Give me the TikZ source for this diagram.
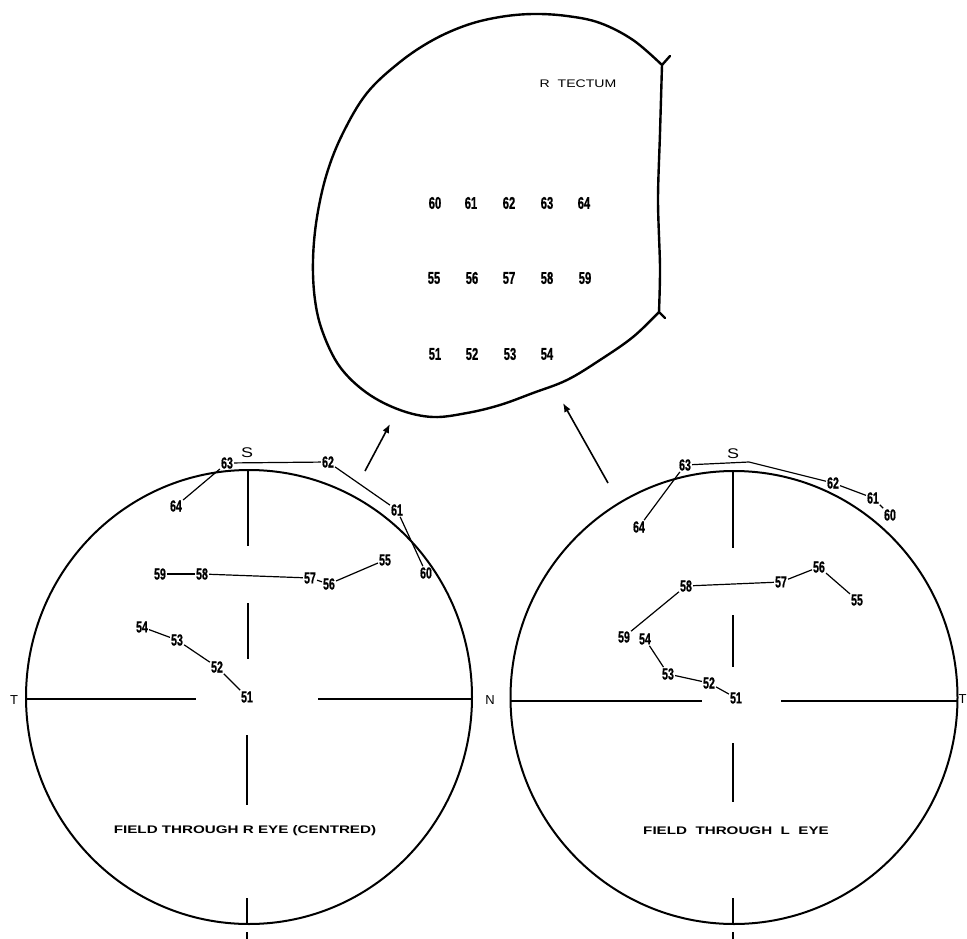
\documentclass[tikz,border=0pt]{standalone}
\usepackage{fontspec}
\usetikzlibrary{arrows.meta}
\newfontfamily\numfont[FakeStretch=0.66,FakeBold=0.8]{Liberation Sans}
\newfontfamily\labfont[FakeStretch=1.28]{Liberation Sans}
\newfontfamily\capfont[FakeStretch=1.38]{Liberation Sans}
\newfontfamily\tfont{Liberation Sans}
\tikzset{
  num/.style={font=\numfont\bfseries\fontsize{16}{16}\selectfont, inner sep=1pt},
  tnum/.style={font=\numfont\bfseries\fontsize{17}{17}\selectfont, inner sep=1pt},
  lab/.style={font=\labfont\fontsize{11}{11}\selectfont, inner sep=0pt},
  caplab/.style={font=\capfont\bfseries\fontsize{11}{11}\selectfont, inner sep=0pt},
  dirlab/.style={font=\labfont\fontsize{14}{14}\selectfont, inner sep=0pt},
  edgelab/.style={font=\tfont\fontsize{13}{13}\selectfont, inner sep=0pt},
  link/.style={line width=1.2pt},
  rim/.style={line width=2pt},
  cross/.style={line width=1.8pt},
  outline/.style={line width=2.4pt, line join=round, line cap=round},
  arr/.style={line width=1.6pt, -{Latex[length=9pt,width=7pt]}},
}
\begin{document}
\begin{tikzpicture}[x=1pt,y=-1pt]
\fill[white] (0,0) rectangle (967,939);
\useasboundingbox (0,0) rectangle (967,939);

% ---------------- Tectum ----------------
\draw[outline] plot[smooth, tension=0.6] coordinates {
  (662,65) (633,40) (600,23) (567,16) (533,14) (500,17) (467,25) (433,40)
  (400,62) (367,93) (343,133) (327,173) (317,217) (313,260) (315,300)
  (323,333) (340,367) (367,393) (400,410) (433,417) (467,413) (500,405)
  (533,393) (567,380) (600,360) (633,337) (659,312)};
\draw[outline] plot[smooth, tension=0.5] coordinates {
  (659,312) (660,267) (658,200) (660,133) (662,65)};
\draw[outline] (662,65) -- (670,56);
\draw[outline] (659,312) -- (665,318);

\node[lab] (rt) at (578,84) {R\ \ TECTUM};
\node[tnum] (t60) at (435,203) {60};
\node[tnum] (t61) at (471,203) {61};
\node[tnum] (t62) at (509,203) {62};
\node[tnum] (t63) at (547,203) {63};
\node[tnum] (t64) at (584,203) {64};
\node[tnum] (t55) at (434,278) {55};
\node[tnum] (t56) at (472,278) {56};
\node[tnum] (t57) at (509,278) {57};
\node[tnum] (t58) at (547,278) {58};
\node[tnum] (t59) at (585,278) {59};
\node[tnum] (t51) at (435,354) {51};
\node[tnum] (t52) at (472,354) {52};
\node[tnum] (t53) at (510,354) {53};
\node[tnum] (t54) at (547,354) {54};

% ---------------- Arrows ----------------
\coordinate (la0) at (365,471);
\coordinate (la1) at (390,424);
\coordinate (ra0) at (608,483);
\coordinate (ra1) at (563,403);
\draw[arr] (la0) -- (la1);
\draw[arr] (ra0) -- (ra1);

% ---------------- Left field (R eye) ----------------
\draw[rim] (249,697) ellipse [x radius=223, y radius=227];
\draw[cross] (248,470) -- (248,546);
\draw[cross] (248,603) -- (248,659);
\draw[cross] (247,735) -- (247,805);
\draw[cross] (247,898) -- (247,924);
\draw[cross] (247,932) -- (247,939);
\draw[cross] (26,699) -- (196,699);
\draw[cross] (318,699) -- (472,699);

\node[dirlab] (lS) at (247,453) {S};
\node[edgelab] (lT) at (14,700) {T};
\node[edgelab] (mN) at (490,700) {N};

\node[num] (a63) at (227,463) {63};
\node[num] (a62) at (328,462) {62};
\node[num] (a64) at (176,506) {64};
\node[num] (a61) at (397,510) {61};
\node[num] (a55) at (385,560) {55};
\node[num] (a60) at (426,573) {60};
\node[num] (a59) at (160,574) {59};
\node[num] (a58) at (202,574) {58};
\node[num] (a57) at (310,578) {57};
\node[num] (a56) at (329,584) {56};
\node[num] (a54) at (142,627) {54};
\node[num] (a53) at (177,640) {53};
\node[num] (a52) at (217,667) {52};
\node[num] (a51) at (247,697) {51};

\draw[link] (a63) -- (a62);
\draw[link] (a63) -- (a64);
\draw[link] (a62) -- (a61);
\draw[link] (a61) -- (a60);
\draw[link] (a59) -- (a58);
\draw[link] (a58) -- (a57);
\draw[link] (a57) -- (a56);
\draw[link] (a56) -- (a55);
\draw[link] (a54) -- (a53);
\draw[link] (a53) -- (a52);
\draw[link] (a52) -- (a51);

\node[caplab] (lcap) at (245,831) {FIELD THROUGH R EYE (CENTRED)};

% ---------------- Right field (L eye) ----------------
\draw[rim] (734,697.5) ellipse [x radius=223.5, y radius=226.5];
\draw[cross] (733,471) -- (733,548);
\draw[cross] (733,615) -- (733,667);
\draw[cross] (733,743) -- (733,802);
\draw[cross] (733,898) -- (733,924);
\draw[cross] (733,932) -- (733,939);
\draw[cross] (511,701) -- (702,701);
\draw[cross] (781,701) -- (957,701);

\node[dirlab] (rS) at (733,454) {S};
\node[edgelab] (rT) at (962.5,699) {T};

\node[num] (b63) at (685,465) {63};
\node[num] (b62) at (833,483) {62};
\node[num] (b61) at (873,498) {61};
\node[num] (b60) at (890,515) {60};
\node[num] (b64) at (639,527) {64};
\node[num] (b56) at (819,567) {56};
\node[num] (b58) at (686,586) {58};
\node[num] (b57) at (781,582) {57};
\node[num] (b55) at (857,600) {55};
\node[num] (b59) at (624,637) {59};
\node[num] (b54) at (645,639) {54};
\node[num] (b53) at (668,674) {53};
\node[num] (b52) at (709,683) {52};
\node[num] (b51) at (736,698) {51};

\coordinate (bk) at (749,462);
\draw[link] (b63) -- (bk) -- (b62);
\draw[link] (b62) -- (b61);
\draw[link] (b61) -- (b60);
\draw[link] (b63) -- (b64);
\draw[link] (b58) -- (b57);
\draw[link] (b57) -- (b56);
\draw[link] (b56) -- (b55);
\draw[link] (b58) -- (b59);
\draw[link] (b54) -- (b53);
\draw[link] (b53) -- (b52);
\draw[link] (b52) -- (b51);

\node[caplab] (rcap) at (736,831) {FIELD\ \ THROUGH\ \ L\ \ EYE};
\end{tikzpicture}
\end{document}
